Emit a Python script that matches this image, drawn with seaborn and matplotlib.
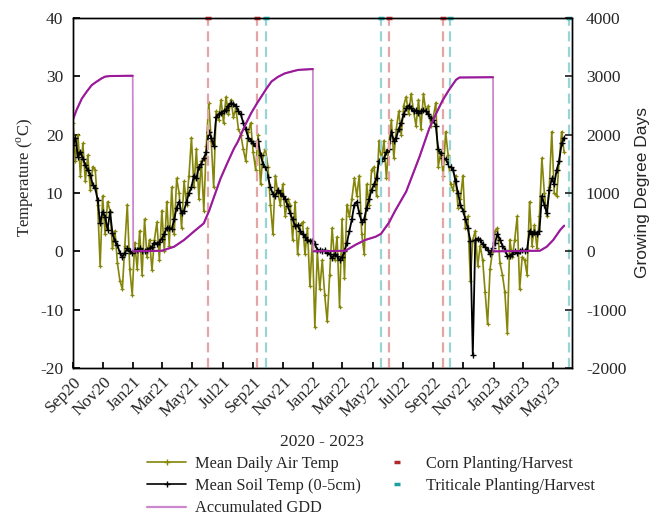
import numpy as np
import pandas as pd
import matplotlib
matplotlib.use('Agg')
import matplotlib.pyplot as plt
import matplotlib.dates as mdates
from matplotlib.lines import Line2D
import seaborn as sns

start_date = '2020-09-01'
step_days = 5
air_temp = [
    22.0, 15.5, 20.0, 13.0, 18.5, 12.0, 16.5, 10.5, 14.5, 14.0,
    8.0, -2.5, 9.5, 3.0, 8.5, 7.0, 0.5, 3.5, -2.0, -5.0,
    -6.5, 1.0, 8.0, -3.0, -7.5, 1.5, -3.0, 3.5, -4.0, 5.5,
    -1.0, 2.0, -3.2, 2.0, 5.0, -1.5, 7.0, 0.0, 8.5, 1.0,
    11.0, 3.0, 12.5, 10.0, 4.0, 12.0, 8.0, 13.0, 19.5, 11.0,
    17.5, 9.0, 15.5, 7.0, 18.0, 25.5, 19.0, 11.0, 24.0, 22.5,
    26.0, 22.0, 26.5, 23.5, 26.0, 23.0, 24.5, 21.0, 20.0, 17.5,
    15.5, 20.5, 22.0, 17.0, 14.0, 20.0, 11.5, 16.5, 17.5, 14.5,
    8.0, 3.0, 13.0, 10.0, 8.0, 11.5, 6.0, 9.0, 8.0, 2.0,
    8.5, -0.5, 4.5, 5.0, -0.5, 4.0, -6.0, 2.0, -13.0, 0.0,
    -6.5, -1.5, -7.5, -12.0, -4.0, 4.0, -1.5, 2.5, -9.5, 5.5,
    -4.5, 8.0, 6.0, 9.0, 12.5, 9.5, 13.0, 3.0, -0.5, 11.5,
    8.0, 14.0, 14.5, 9.5, 19.0, 15.5, 19.0, 12.5, 18.5, 22.5,
    16.0, 21.0, 24.0, 20.0, 25.0, 26.5, 23.5, 27.0, 24.0, 21.5,
    26.0, 21.0, 27.0, 24.0, 25.0, 21.5, 23.0, 25.5, 14.5, 17.0,
    13.0, 20.5, 16.5, 11.5, 10.5, 13.0, 7.5, 9.0, 13.0, 4.0,
    6.0, -5.0, 2.0, 3.5, -2.5, 1.0, -1.5, -7.0, -12.5, -3.0,
    0.0, 3.5, 4.0, -2.0, -4.0, -7.0, -14.0, 2.0, -1.0, 2.0,
    6.0, -6.5, -1.0, -1.5, -4.0, 8.5, 1.0, 4.5, 0.5, 6.0,
    16.0, 10.0, 6.0, 11.0, 20.5, 10.0, 9.5, 15.5, 20.5, 17.0,
]
soil_temp = [
    18.2, 19.5, 16.2, 17.1, 15.9, 14.8, 13.9, 13.1, 11.4, 10.8,
    8.8, 4.8, 6.8, 5.9, 3.7, 6.8, 3.1, 1.7, 1.1, -0.3,
    -0.9, -0.3, 0.5, 0.0, -0.2, 0.3, 0.2, 0.5, 0.0, 0.1,
    0.2, 0.5, 0.8, 1.5, 1.3, 1.6, 2.2, 3.0, 4.0, 4.0,
    3.8, 5.5, 7.5, 8.5, 6.5, 7.0, 8.5, 10.0, 11.0, 13.0,
    12.5, 14.5, 15.0, 16.0, 17.0, 20.5, 19.5, 18.0, 23.0, 23.5,
    23.8, 24.0, 24.3, 25.0, 25.4, 25.2, 25.0, 24.0, 23.5, 22.0,
    21.0, 19.5, 19.0, 18.5, 18.0, 19.0, 16.5, 15.0, 14.5, 12.8,
    11.0, 9.8, 9.5, 10.5, 10.0, 9.5, 9.0, 7.8, 6.5, 5.5,
    4.3, 4.5, 3.5, 3.0, 2.5, 2.0, 1.8, 1.7, 1.2, 0.3,
    0.2, 0.0, 0.2, -0.2, -0.4, -1.2, -0.5, -0.8, -1.5, -1.0,
    0.0, 1.5, 3.5, 5.5, 8.0, 8.5, 6.5, 5.0, 5.5, 7.5,
    9.0, 10.5, 11.5, 12.5, 15.5, 15.5, 16.0, 17.0, 17.5, 20.5,
    19.0, 19.5, 21.0, 22.0, 23.5, 24.5, 25.0, 24.5, 24.0, 24.2,
    23.8, 24.0, 24.2, 24.0, 23.5, 22.8, 22.5, 21.5, 17.5, 16.8,
    16.0, 15.8, 15.0, 14.5, 14.0, 12.0, 10.0, 8.0, 7.0, 5.5,
    4.0, 1.8, -17.8, 2.0, 2.2, 2.0, 1.2, 0.8, 0.3, -0.5,
    0.5, 1.5, 3.0, 2.0, 1.0, 0.3, -0.8, -0.8, -0.5, 0.0,
    -0.3, 0.0, 0.2, 0.0, 0.3, 3.5, 3.0, 3.3, 3.0, 3.5,
    9.5, 8.0, 6.5, 10.5, 12.5, 11.5, 14.0, 15.5, 18.5, 19.5,
]

# accumulated growing degree days, one list per season
gdd_2020_dates = ['2020-09-01', '2020-09-08', '2020-09-19', '2020-09-29', '2020-10-09',
                  '2020-10-19', '2020-10-29', '2020-11-05', '2020-11-15', '2020-12-31']
gdd_2020 = [2260, 2420, 2620, 2740, 2850, 2910, 2965, 2995, 3005, 3010]

gdd_2021_dates = ['2021-01-01', '2021-02-28', '2021-03-25', '2021-04-14', '2021-05-04',
                  '2021-05-24', '2021-06-04', '2021-06-14', '2021-06-27', '2021-07-11',
                  '2021-07-24', '2021-08-01', '2021-08-15', '2021-08-28', '2021-09-09',
                  '2021-09-28', '2021-10-08', '2021-10-21', '2021-11-04', '2021-11-17',
                  '2021-12-01', '2021-12-31']
gdd_2021 = [0, 10, 80, 195, 340, 480, 700, 940, 1250, 1520,
            1760, 1880, 2150, 2370, 2540, 2790, 2910, 2990, 3050, 3080,
            3110, 3125]

gdd_2022_dates = ['2022-01-01', '2022-03-07', '2022-03-27', '2022-04-16', '2022-05-07',
                  '2022-05-18', '2022-06-03', '2022-06-16', '2022-07-03', '2022-07-08',
                  '2022-08-04', '2022-08-24', '2022-09-10', '2022-09-20', '2022-10-03',
                  '2022-10-17', '2022-10-24', '2022-12-31']
gdd_2022 = [0, 10, 110, 195, 250, 300, 490, 700, 950, 1023,
            1620, 2110, 2420, 2590, 2770, 2940, 2980, 2985]

gdd_2023_dates = ['2023-01-01', '2023-04-05', '2023-04-19', '2023-05-02', '2023-05-09',
                  '2023-05-16', '2023-05-24']
gdd_2023 = [0, 10, 80, 195, 280, 365, 440]

corn_dates = ['2021-06-02', '2021-09-09', '2022-06-03', '2022-09-20']
triticale_dates = ['2021-09-27', '2022-05-18', '2022-10-04', '2023-06-02']

x_start, x_end = '2020-09-01', '2023-06-09'

air_col = '#85850a'
gdd_dark = '#9a1a9a'
gdd_light = '#cc88cc'
corn_light, corn_dark = '#e3a6a6', '#b02a2a'
trit_light, trit_dark = '#98d4d4', '#1f9f9f'

sns.set_theme(style='ticks')
plt.rcParams['font.family'] = ['Liberation Serif', 'DejaVu Serif']
plt.rcParams['mathtext.fontset'] = 'custom'
plt.rcParams['mathtext.rm'] = 'Liberation Serif'
plt.rcParams['axes.unicode_minus'] = False

dates = pd.date_range(start_date, periods=len(air_temp), freq=f'{step_days}D')
temps = pd.DataFrame({'date': dates, 'air': air_temp, 'soil': soil_temp})

seasons = [(gdd_2020_dates, gdd_2020), (gdd_2021_dates, gdd_2021),
           (gdd_2022_dates, gdd_2022), (gdd_2023_dates, gdd_2023)]
gdd = pd.DataFrame({
    'date': pd.to_datetime(sum([d for d, v in seasons], [])),
    'gdd': sum([v for d, v in seasons], []),
})

fig = plt.figure(figsize=(6.6, 5.16), dpi=100)
ax = fig.add_axes([73 / 660, 1 - 368 / 516, 499 / 660, 350 / 516])

sns.lineplot(data=temps, x='date', y='air', ax=ax, color=air_col, lw=1.2,
             marker='+', markersize=3.5, markeredgewidth=0.9, markeredgecolor=air_col,
             legend=False, zorder=2)
sns.lineplot(data=temps, x='date', y='soil', ax=ax, color='black', lw=1.3,
             marker='+', markersize=5, markeredgewidth=1.0, markeredgecolor='black',
             legend=False, zorder=3)

for d in corn_dates:
    ax.axvline(pd.Timestamp(d), color=corn_light, lw=1.6, dashes=(4.5, 2.5), zorder=4)
    ax.plot([pd.Timestamp(d)], [1], transform=ax.get_xaxis_transform(), marker='_',
            ms=5, mew=2.5, color=corn_dark, clip_on=False, zorder=6)
for d in triticale_dates:
    ax.axvline(pd.Timestamp(d), color=trit_light, lw=1.6, dashes=(4.5, 2.5), zorder=4)
    ax.plot([pd.Timestamp(d)], [1], transform=ax.get_xaxis_transform(), marker='_',
            ms=5, mew=2.5, color=trit_dark, clip_on=False, zorder=6)

ax.set_xlim(pd.Timestamp(x_start), pd.Timestamp(x_end))
ax.set_ylim(-20, 40)
ax.set_yticks(np.arange(-20, 41, 10))
ax.xaxis.set_major_locator(mdates.MonthLocator(bymonth=[1, 3, 5, 7, 9, 11]))
ax.xaxis.set_major_formatter(mdates.DateFormatter('%b%y'))
ax.tick_params(axis='both', direction='in', labelsize=12.5, color='black')
ax.tick_params(axis='x', length=4, pad=4)
ax.tick_params(axis='y', length=5, pad=7, right=False)
for lab in ax.get_xticklabels():
    lab.set_rotation(45)
    lab.set_ha('right')
    lab.set_va('top')
    lab.set_rotation_mode('anchor')
ax.set_xlabel('2020 - 2023', fontsize=12.5, labelpad=10)
ax.set_ylabel('Temperature ($^{\\mathrm{o}}$C)', fontsize=12)
ax.yaxis.set_label_coords(-0.074, 0.545)

ax2 = ax.twinx()
sns.lineplot(data=gdd, x='date', y='gdd', ax=ax2, color=gdd_light, lw=1.3, legend=False)
for d, v in seasons:
    sns.lineplot(x=pd.to_datetime(d), y=v, ax=ax2, color=gdd_dark, lw=1.5, legend=False)
ax2.set_ylim(-2000, 4000)
ax2.set_yticks(np.arange(-2000, 4001, 1000))
ax2.tick_params(axis='y', direction='in', length=5, pad=10, labelsize=12.5)
ax2.set_ylabel('Growing Degree Days', fontsize=12.5, family=['Liberation Sans'],
               rotation=90)
ax2.yaxis.set_label_coords(1.127, 0.5)
ax2.set_xlim(pd.Timestamp(x_start), pd.Timestamp(x_end))

for a in (ax, ax2):
    for s in a.spines.values():
        s.set_color('black')
        s.set_linewidth(1.0)

handles = [
    Line2D([], [], color=air_col, lw=1.2, marker='+', ms=4),
    Line2D([], [], color='black', lw=1.2, marker='+', ms=5),
    Line2D([], [], color=gdd_light, lw=1.6),
    Line2D([], [], color=corn_dark, lw=0, marker='_', ms=5, mew=2.5),
    Line2D([], [], color=trit_dark, lw=0, marker='_', ms=5, mew=2.5),
]
labels = ['Mean Daily Air Temp', 'Mean Soil Temp (0-5cm)', 'Accumulated GDD',
          'Corn Planting/Harvest', 'Triticale Planting/Harvest']
fig.legend(handles, labels, loc='upper left', bbox_to_anchor=(147 / 660, 1 - 456 / 516),
           ncol=2, frameon=False, fontsize=11.8, handlelength=2.4, handletextpad=0.55,
           columnspacing=1.0, labelspacing=0.38, borderpad=0, borderaxespad=0)

fig.savefig('out.png', dpi=100)
